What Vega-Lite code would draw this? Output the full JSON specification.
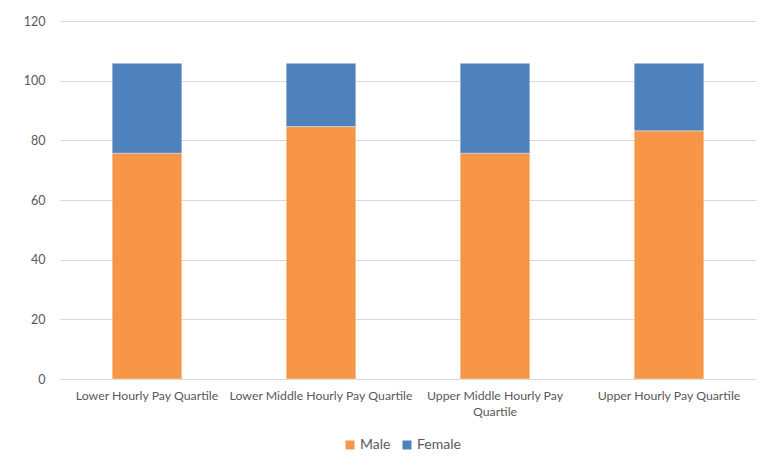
{
  "$schema": "https://vega.github.io/schema/vega-lite/v6.json",
  "width": 696,
  "height": 358,
  "autosize": {"type": "none"},
  "padding": {"left": 60, "top": 21, "right": 10, "bottom": 86},
  "background": "white",
  "data": {
    "values": [
      {"quartile": "Lower Hourly Pay Quartile", "sex": "Male", "value": 75.7},
      {"quartile": "Lower Hourly Pay Quartile", "sex": "Female", "value": 30.1},
      {"quartile": "Lower Middle Hourly Pay Quartile", "sex": "Male", "value": 84.6},
      {"quartile": "Lower Middle Hourly Pay Quartile", "sex": "Female", "value": 21.2},
      {"quartile": "Upper Middle Hourly Pay Quartile", "sex": "Male", "value": 75.7},
      {"quartile": "Upper Middle Hourly Pay Quartile", "sex": "Female", "value": 30.1},
      {"quartile": "Upper Hourly Pay Quartile", "sex": "Male", "value": 83.2},
      {"quartile": "Upper Hourly Pay Quartile", "sex": "Female", "value": 22.6}
    ]
  },
  "mark": {"type": "bar", "stroke": "white", "strokeWidth": 0.6, "strokeOpacity": 0.6},
  "encoding": {
    "x": {
      "field": "quartile",
      "type": "nominal",
      "sort": ["Lower Hourly Pay Quartile", "Lower Middle Hourly Pay Quartile", "Upper Middle Hourly Pay Quartile", "Upper Hourly Pay Quartile"],
      "scale": {"paddingInner": 0.6, "paddingOuter": 0.3},
      "axis": {
        "title": null,
        "labelAngle": 0,
        "labelPadding": 10,
        "labelFont": "Lato",
        "labelFontSize": 12.3,
        "labelLimit": 400,
        "labelOverlap": false,
        "labelColor": "#595959",
        "labelLineHeight": 16,
        "labelExpr": "datum.label == 'Upper Middle Hourly Pay Quartile' ? ['Upper Middle Hourly Pay', 'Quartile'] : datum.label",
        "ticks": false,
        "domain": true,
        "domainColor": "#d9d9d9",
        "domainWidth": 1
      }
    },
    "y": {
      "field": "value",
      "type": "quantitative",
      "stack": "zero",
      "scale": {"domain": [0, 120], "nice": false},
      "axis": {
        "title": null,
        "values": [0, 20, 40, 60, 80, 100, 120],
        "labelFont": "Lato",
        "labelFontSize": 12.5,
        "labelColor": "#595959",
        "labelPadding": 15,
        "ticks": false,
        "domain": false,
        "gridColor": "#d9d9d9",
        "gridWidth": 1
      }
    },
    "color": {
      "field": "sex",
      "type": "nominal",
      "scale": {"domain": ["Male", "Female"], "range": ["#F79646", "#4F81BD"]},
      "legend": {
        "title": null,
        "orient": "none",
        "legendX": 283,
        "legendY": 417,
        "direction": "horizontal",
        "symbolType": "square",
        "symbolSize": 81,
        "symbolStrokeWidth": 0,
        "labelFont": "Lato",
        "labelFontSize": 14,
        "labelColor": "#595959",
        "labelOffset": 3,
        "columnPadding": 9
      }
    },
    "order": {"field": "sex", "sort": "descending"}
  },
  "config": {"view": {"stroke": null}}
}
